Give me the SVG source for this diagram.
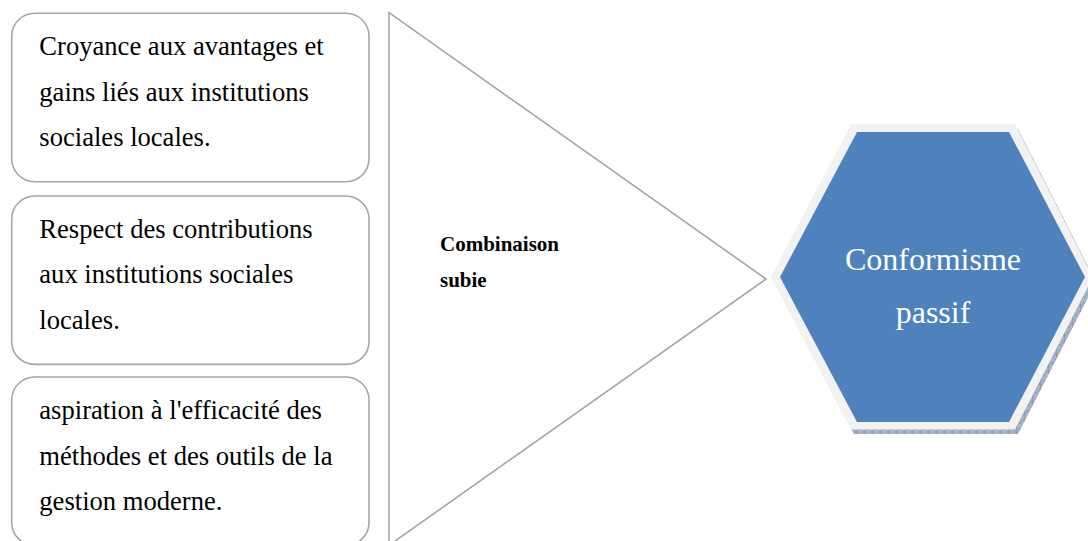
<svg xmlns="http://www.w3.org/2000/svg" width="1088" height="541" viewBox="0 0 1088 541">
<style>
.box{fill:#ffffff;stroke:#a6a6a6;stroke-width:1.6}
.t{font-family:"Liberation Serif","Times New Roman",serif;font-size:26.6px;fill:#000000}
.b{font-family:"Liberation Serif","Times New Roman",serif;font-size:21px;font-weight:bold;fill:#000000}
.h{font-family:"Liberation Serif","Times New Roman",serif;font-size:32px;fill:#ffffff;text-anchor:middle}
</style>
<defs>
<pattern id="hatch" width="8" height="6" patternUnits="userSpaceOnUse">
<rect width="8" height="6" fill="#a9b6c9"/>
<path d="M0 0L8 6M8 0L0 6" stroke="#8392aa" stroke-width="0.6"/>
<path d="M0 0V6" stroke="#6f7f99" stroke-width="0.8"/>
</pattern>
</defs>
<rect width="1088" height="541" fill="#ffffff"/>
<g id="connectors">
<polygon id="arrow" points="389,12.7 766,279 389,545.3" fill="#ffffff" stroke="#a6a6a6" stroke-width="1.6"/>
</g>
<g id="label-combinaison">
<text class="b" x="440" y="250.5">Combinaison</text>
<text class="b" x="440" y="287.3">subie</text>
</g>
<g id="box1">
<rect class="box" x="11.7" y="13.3" width="357.3" height="168.4" rx="23"/>
<text class="t" x="39.3" y="55">Croyance aux avantages et</text>
<text class="t" x="39.3" y="100.5">gains liés aux institutions</text>
<text class="t" x="39.3" y="146">sociales locales.</text>
</g>
<g id="box2">
<rect class="box" x="11.7" y="196" width="357.3" height="168.4" rx="23"/>
<text class="t" x="39.3" y="237.5">Respect des contributions</text>
<text class="t" x="39.3" y="283">aux institutions sociales</text>
<text class="t" x="39.3" y="328.5">locales.</text>
</g>
<g id="box3">
<rect class="box" x="11.7" y="377" width="357.3" height="168.4" rx="23"/>
<text class="t" x="39.3" y="419">aspiration à l'efficacité des</text>
<text class="t" x="39.3" y="464.5">méthodes et des outils de la</text>
<text class="t" x="39.3" y="510">gestion moderne.</text>
</g>
<g id="hexagon">
<polygon points="854,129 1018,129 1096,282 1018,434 854,434 774,282" fill="url(#hatch)"/>
<polygon points="851,124 1015,124 1093,277 1015,429.5 851,429.5 771,277" fill="#f2f2f2"/>
<polygon points="857,132 1009,132 1085,277 1009,422 857,422 780,277" fill="#4f81bd"/>
<text class="h" x="933" y="270">Conformisme</text>
<text class="h" x="933" y="323">passif</text>
</g>
</svg>
